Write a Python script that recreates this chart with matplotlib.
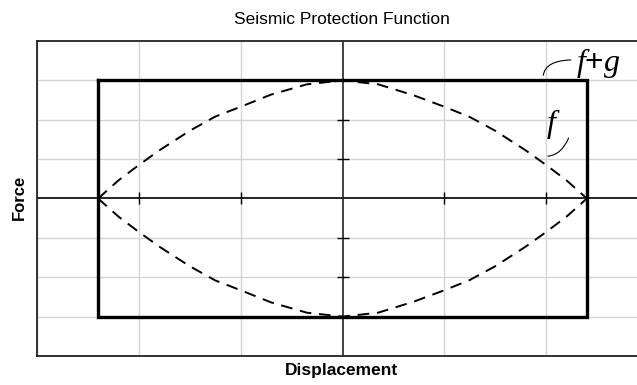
import numpy as np
import matplotlib.pyplot as plt

plt.rcParams['font.family'] = ['Liberation Sans', 'DejaVu Sans']
plt.rcParams['mathtext.fontset'] = 'custom'
plt.rcParams['mathtext.it'] = 'Liberation Serif:italic'
plt.rcParams['mathtext.rm'] = 'Liberation Serif'

# f : dashed lens
disp = [-2.4, -2.2, -2.0, -1.8, -1.5, -1.25, -1.0, -0.7, -0.35, 0.0,
        0.35, 0.7, 1.0, 1.25, 1.5, 1.8, 2.0, 2.2, 2.4]
f_upper = [0.0, 0.46, 0.85, 1.22, 1.72, 2.08, 2.33, 2.64, 2.9, 3.0,
           2.9, 2.62, 2.33, 2.07, 1.72, 1.22, 0.85, 0.46, 0.0]
f_lower = [-v for v in f_upper]

# f+g : rectangular loop
loop_x = [-2.4, 2.4, 2.4, -2.4, -2.4]
loop_y = [3.0, 3.0, -3.0, -3.0, 3.0]

grid_x = [-3, -2, -1, 1, 2, 3]
grid_y = [-3, -2, -1, 1, 2, 3]
tick_x = [-2, -1, 1, 2]
tick_y = [-3, -2, -1, 1, 2, 3]

fig = plt.figure(figsize=(6.37, 3.85), dpi=100)
ax = fig.add_axes([37 / 637, 29 / 385, 611 / 637, 315 / 385])
ax.set_xlim(-3, 3)
ax.set_ylim(-4, 4)

ax.set_xticks(grid_x)
ax.set_yticks(grid_y)
ax.tick_params(length=0, labelbottom=False, labelleft=False)
ax.grid(True, color='#d4d4d4', lw=1.0)
for s in ax.spines.values():
    s.set_linewidth(1.3)
    s.set_color('#222222')

# axis lines through the origin with small cross ticks
ax.axhline(0, color='k', lw=1.2, zorder=2)
ax.axvline(0, color='#222222', lw=1.2, zorder=2)
ax.plot(tick_x, [0] * len(tick_x), ls='none', marker='|', ms=9, mew=1.0, color='k', zorder=2)
ax.plot([0] * len(tick_y), tick_y, ls='none', marker='_', ms=9, mew=1.0, color='k', zorder=2)

ax.plot(loop_x, loop_y, color='k', lw=2.4, zorder=3, solid_joinstyle='miter')
ax.plot(disp, f_upper, color='k', lw=1.4, dashes=(6, 4), zorder=4)
ax.plot(disp, f_lower, color='k', lw=1.4, dashes=(6, 4), zorder=4)

# curve labels with leader hooks
ax.text(2.29, 3.24, r'$f$+$g$', fontsize=23, ha='left', va='baseline')
ax.annotate('', xy=(1.97, 3.06), xytext=(2.27, 3.52),
            arrowprops=dict(arrowstyle='-', lw=0.8, color='k',
                            connectionstyle='angle3,angleA=0,angleB=90'))
ax.text(2.0, 1.7, r'$f$', fontsize=23, ha='left', va='baseline')
ax.annotate('', xy=(2.23, 1.6), xytext=(1.99, 1.07),
            arrowprops=dict(arrowstyle='-', lw=0.8, color='k',
                            connectionstyle='angle3,angleA=0,angleB=70'))

fig.text(342 / 637, 1 - 20 / 385, 'Seismic Protection Function', fontsize=12.5,
         ha='center', va='center')
fig.text(342 / 637, 1 - 370 / 385, 'Displacement', fontsize=12.5, fontweight='bold',
         ha='center', va='center')
fig.text(19 / 637, 1 - 197 / 385, 'Force', fontsize=12, fontweight='bold',
         rotation=90, ha='center', va='center')

fig.savefig('out.png', dpi=100)
